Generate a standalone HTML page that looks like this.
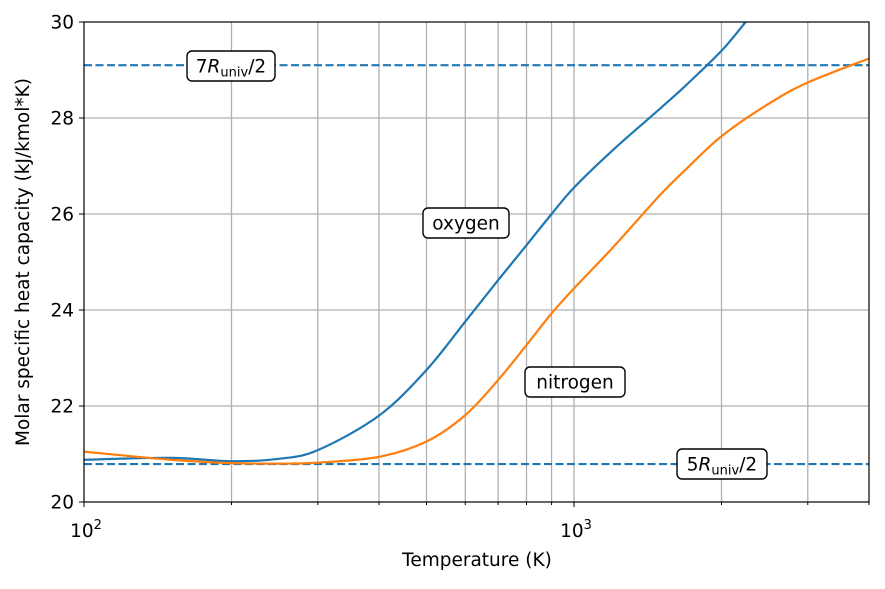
<!DOCTYPE html>
<html><head><meta charset="utf-8"><style>
body{margin:0;background:#fff;font-family:"Liberation Sans","DejaVu Sans",sans-serif}
svg text{font-family:"DejaVu Sans","Liberation Sans",sans-serif;fill:#000}
</style></head><body>
<svg id="c" width="885" height="584" xmlns="http://www.w3.org/2000/svg"></svg>
<script>
const temps=[100,150,200,250,300,400,500,600,700,800,900,1000,1200,1500,1700,2000,2240];
const oxygen=[20.88,20.92,20.85,20.9,21.08,21.8,22.75,23.76,24.62,25.35,26.0,26.55,27.33,28.2,28.7,29.4,30.0];
const tempsN=[100,150,200,250,300,400,500,600,700,800,900,1000,1200,1500,1700,2000,2500,3000,4000];
const nitrogen=[21.05,20.88,20.81,20.8,20.82,20.94,21.26,21.81,22.54,23.27,23.93,24.45,25.3,26.4,26.95,27.62,28.3,28.74,29.24];
const yTicks=[20,22,24,26,28,30];
const refLines=[29.1,20.79];
const X0=84,X1=869,Y0=502,Y1=22;
const FS=18.5;
const xs=t=>X0+(Math.log10(t)-2)/(Math.log10(4000)-2)*(X1-X0);
const ys=v=>Y0-(v-20)/10*(Y0-Y1);
const svg=document.getElementById('c');const NS='http://www.w3.org/2000/svg';
function mk(tag,attrs,parent){const e=document.createElementNS(NS,tag);for(const k in attrs)e.setAttribute(k,attrs[k]);(parent||svg).appendChild(e);return e;}
const clip=mk('clipPath',{id:'pc'});mk('rect',{x:X0,y:Y1,width:X1-X0,height:Y0-Y1},clip);
const grid=mk('g',{});


for(let d=100;d<4000;d*=10)for(let m=1;m<10;m++){const t=d*m;if(t<=100||t>=4000)continue;
const l=mk('line',{x1:xs(t),x2:xs(t),y1:Y1,y2:Y0,stroke:'#b0b0b0','stroke-width':1.3},grid);

}
yTicks.forEach(v=>{if(v>20&&v<30){const l=mk('line',{x1:X0,x2:X1,y1:ys(v),y2:ys(v),stroke:'#b0b0b0','stroke-width':1.3},grid);

}
const tk=mk('line',{x1:X0-5,x2:X0,y1:ys(v),y2:ys(v),stroke:'#000'});


const tx=mk('text',{x:X0-10,y:ys(v)+6.5,'text-anchor':'end','font-size':FS});tx.textContent=v;

});
for(let d=100;d<4000;d*=10)for(let m=1;m<10;m++){const t=d*m;if(t>4000)continue;const big=m===1;
const tk=mk('line',{x1:xs(t),x2:xs(t),y1:Y0,y2:Y0+(big?5:3),stroke:'#000'});


if(big){const tx=mk('text',{x:xs(t)+2,y:Y0+35,'text-anchor':'middle','font-size':FS});tx.innerHTML='10<tspan dy="-8" font-size="13">'+Math.log10(t)+'</tspan>';

}}
refLines.forEach(v=>{const l=mk('line',{x1:X0,x2:X1,y1:ys(v),y2:ys(v),stroke:'#1f77b4','stroke-width':2.2,'stroke-dasharray':'8,3.5'});

});
function path(T,V){const p=T.map((t,i)=>[xs(t),ys(V[i])]);let d='M'+p[0][0]+','+p[0][1];
for(let i=0;i<p.length-1;i++){const a=p[i-1]||p[i],b=p[i],c=p[i+1],e=p[i+2]||c;
d+=' C'+(b[0]+(c[0]-a[0])/6)+','+(b[1]+(c[1]-a[1])/6)+' '+(c[0]-(e[0]-b[0])/6)+','+(c[1]-(e[1]-b[1])/6)+' '+c[0]+','+c[1];}return d;}
const po=mk('path',{d:path(temps,oxygen),fill:'none',stroke:'#1f77b4','stroke-width':2.2,'clip-path':'url(#pc)'});


const pn=mk('path',{d:path(tempsN,nitrogen),fill:'none',stroke:'#ff7f0e','stroke-width':2.2,'clip-path':'url(#pc)'});


const fr=mk('rect',{x:X0,y:Y1,width:X1-X0,height:Y0-Y1,fill:'none',stroke:'#000','stroke-width':1.2});


function box(cx,cy,w,html,name){const g=mk('g',{});


mk('rect',{x:cx-w/2,y:cy-15,width:w,height:30,rx:5,fill:'#fff',stroke:'#000','stroke-width':1.4},g);
const t=mk('text',{x:cx,y:cy+6.5,'text-anchor':'middle','font-size':FS},g);t.innerHTML=html;}
box(231,66,88,'7<tspan font-style="italic">R</tspan><tspan font-size="13" dy="4">univ</tspan><tspan dy="-4">/2</tspan>','label-7r-2');
box(466,223,86,'oxygen','label-oxygen');
box(575,382,100,'nitrogen','label-nitrogen');
box(722,464,90,'5<tspan font-style="italic">R</tspan><tspan font-size="13" dy="4">univ</tspan><tspan dy="-4">/2</tspan>','label-5r-2');
const xl=mk('text',{x:477,y:566,'text-anchor':'middle','font-size':FS});xl.textContent='Temperature (K)';


const yl=mk('text',{x:0,y:0,'text-anchor':'middle','font-size':FS,transform:'translate(29,262) rotate(-90)'});yl.textContent='Molar specific heat capacity (kJ/kmol*K)';


</script>
</body></html>
